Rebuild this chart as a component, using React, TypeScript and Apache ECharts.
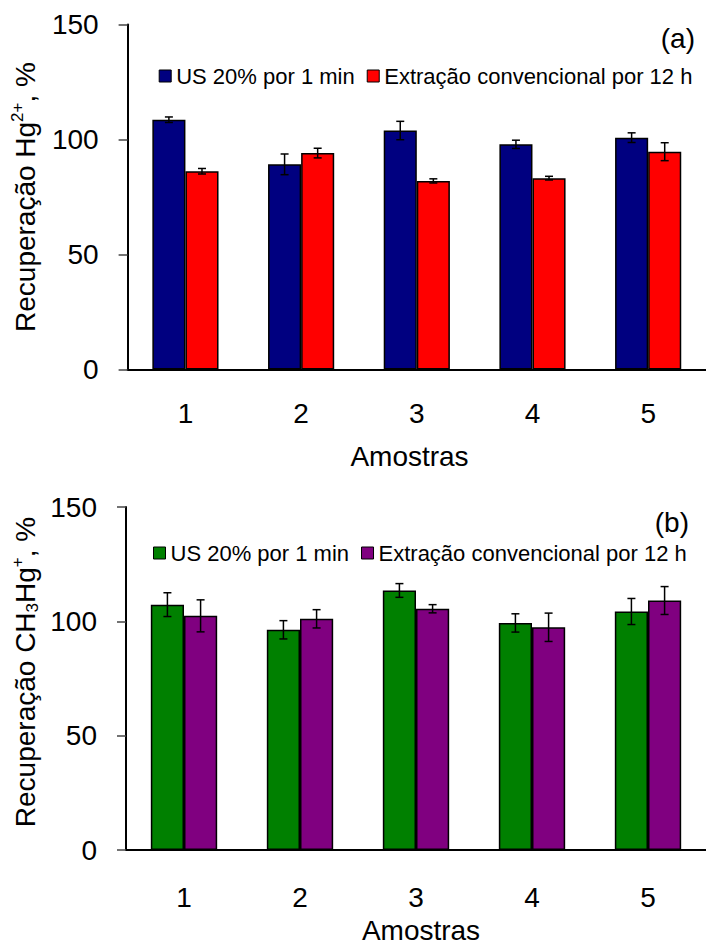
import React, { useEffect, useRef } from "react";
import * as echarts from "echarts";

const categories = ["1", "2", "3", "4", "5"];

// (a) Hg2+
const hgUS = [108.6, 89.2, 103.9, 97.9, 100.8];
const hgUSErr = [1.2, 4.5, 4.0, 1.8, 2.1];
const hgConv = [86.2, 94.1, 82.0, 83.2, 94.7];
const hgConvErr = [1.2, 2.1, 0.9, 0.8, 3.9];

// (b) CH3Hg+
const mhgUS = [107.3, 96.3, 113.5, 99.3, 104.3];
const mhgUSErr = [5.2, 4.0, 3.0, 4.0, 5.7];
const mhgConv = [102.4, 101.1, 105.5, 97.4, 109.1];
const mhgConvErr = [7.0, 4.0, 1.8, 6.2, 6.1];

const yMin = 0;
const yMax = 150;
const yInterval = 50;

const legendLabels: Record<string, string> = {
  a_us: "US 20% por 1 min",
  a_conv: "Extração convencional por 12 h",
  b_us: "US 20% por 1 min",
  b_conv: "Extração convencional por 12 h",
};

const FONT = "Liberation Sans, Arial, sans-serif";
const BAR_FRAC = 0.286;

function errData(vals: number[], errs: number[]) {
  return vals.map((v, i) => [i, v + errs[i], v - errs[i]]);
}

function errSeries(name: string, gridIdx: number, data: number[][], side: number) {
  return {
    type: "custom",
    name,
    xAxisIndex: gridIdx,
    yAxisIndex: gridIdx,
    z: 10,
    silent: true,
    encode: { x: 0, y: [1, 2] },
    data,
    renderItem: (params: any, api: any) => {
      const xi = api.value(0);
      const hi = api.value(1);
      const lo = api.value(2);
      const pHi = api.coord([xi, hi]);
      const pLo = api.coord([xi, lo]);
      const band = api.size([1, 0])[0];
      const x = pHi[0] + side * band * BAR_FRAC * 0.5;
      const cap = 4;
      const st = { stroke: "#000", lineWidth: 1.5 };
      return {
        type: "group",
        children: [
          { type: "line", shape: { x1: x, y1: pHi[1], x2: x, y2: pLo[1] }, style: st },
          { type: "line", shape: { x1: x - cap, y1: pHi[1], x2: x + cap, y2: pHi[1] }, style: st },
          { type: "line", shape: { x1: x - cap, y1: pLo[1], x2: x + cap, y2: pLo[1] }, style: st },
        ],
      };
    },
  };
}

function barSeries(name: string, gridIdx: number, data: number[], color: string) {
  return {
    type: "bar",
    name,
    xAxisIndex: gridIdx,
    yAxisIndex: gridIdx,
    data,
    barWidth: (BAR_FRAC * 100).toFixed(1) + "%",
    barGap: "0%",
    itemStyle: { color, borderColor: "#000", borderWidth: 1.5 },
  };
}

function xAxis(gridIdx: number, margin: number) {
  return {
    type: "category",
    gridIndex: gridIdx,
    data: categories,
    axisLine: { lineStyle: { color: "#000", width: 2 } },
    axisTick: { show: false },
    axisLabel: { color: "#000", fontSize: 28, fontFamily: FONT, margin },
  };
}

function yAxis(gridIdx: number) {
  return {
    type: "value",
    gridIndex: gridIdx,
    min: yMin,
    max: yMax,
    interval: yInterval,
    splitLine: { show: false },
    axisLine: { show: true, lineStyle: { color: "#000", width: 2 } },
    axisTick: { show: true, length: 9, lineStyle: { color: "#444", width: 1.5 } },
    axisLabel: { color: "#000", fontSize: 28, fontFamily: FONT, margin: 29 },
  };
}

function legend(left: number, top: number, names: string[]) {
  return {
    left,
    top,
    padding: 0,
    itemGap: 12,
    itemWidth: 12,
    itemHeight: 12,
    icon: "rect",
    selectedMode: false,
    data: names,
    formatter: (n: string) => legendLabels[n],
    itemStyle: { borderColor: "#000", borderWidth: 1 },
    textStyle: { color: "#000", fontSize: 22, fontFamily: FONT },
  };
}

export default function App() {
  const ref = useRef<HTMLDivElement>(null);
  useEffect(() => {
    if (!ref.current) return;
    const chart = echarts.init(ref.current, undefined, { renderer: "svg" });
    const richMain = { fontSize: 28, lineHeight: 32, fontFamily: FONT, color: "#000" };
    const richSmall = { fontSize: 17, lineHeight: 17, fontFamily: FONT, color: "#000" };
    chart.setOption({
      animation: false,
      backgroundColor: "#fff",
      grid: [
        { left: 127.6, top: 24.5, width: 586, height: 345 },
        { left: 126, top: 507, width: 586, height: 343 },
      ],
      xAxis: [xAxis(0, 30), xAxis(1, 33)],
      yAxis: [yAxis(0), yAxis(1)],
      legend: [
        legend(158.7, 65, ["a_us", "a_conv"]),
        legend(153, 542, ["b_us", "b_conv"]),
      ],
      series: [
        barSeries("a_us", 0, hgUS, "#000080"),
        barSeries("a_conv", 0, hgConv, "#FF0000"),
        barSeries("b_us", 1, mhgUS, "#008000"),
        barSeries("b_conv", 1, mhgConv, "#800080"),
        errSeries("a_us_err", 0, errData(hgUS, hgUSErr), -1),
        errSeries("a_conv_err", 0, errData(hgConv, hgConvErr), 1),
        errSeries("b_us_err", 1, errData(mhgUS, mhgUSErr), -1),
        errSeries("b_conv_err", 1, errData(mhgConv, mhgConvErr), 1),
      ],
      graphic: [
        {
          type: "text",
          x: 25,
          y: 197,
          rotation: Math.PI / 2,
          style: {
            text: "{m|Recuperação Hg}{sup|2+}{m|, %}",
            align: "center",
            verticalAlign: "middle",
            rich: { m: richMain, sup: { ...richSmall, verticalAlign: "top" } },
          },
        },
        {
          type: "text",
          x: 25,
          y: 672,
          rotation: Math.PI / 2,
          style: {
            text: "{m|Recuperação CH}{sub|3}{m|Hg}{sup|+}{m|, %}",
            align: "center",
            verticalAlign: "middle",
            rich: {
              m: richMain,
              sub: { ...richSmall, verticalAlign: "bottom" },
              sup: { ...richSmall, verticalAlign: "top" },
            },
          },
        },
        {
          type: "text",
          x: 409.5,
          y: 456,
          style: { text: "Amostras", fontSize: 28, fontFamily: FONT, fill: "#000", align: "center", verticalAlign: "middle" },
        },
        {
          type: "text",
          x: 421,
          y: 930,
          style: { text: "Amostras", fontSize: 28, fontFamily: FONT, fill: "#000", align: "center", verticalAlign: "middle" },
        },
        {
          type: "text",
          x: 695,
          y: 38,
          style: { text: "(a)", fontSize: 28, fontFamily: FONT, fill: "#000", align: "right", verticalAlign: "middle" },
        },
        {
          type: "text",
          x: 689,
          y: 522,
          style: { text: "(b)", fontSize: 28, fontFamily: FONT, fill: "#000", align: "right", verticalAlign: "middle" },
        },
      ],
    });
    return () => chart.dispose();
  }, []);
  return (
    <div
      ref={ref}
      style={{ position: "fixed", left: 0, top: 0, width: 706, height: 945, background: "#fff" }}
    />
  );
}
